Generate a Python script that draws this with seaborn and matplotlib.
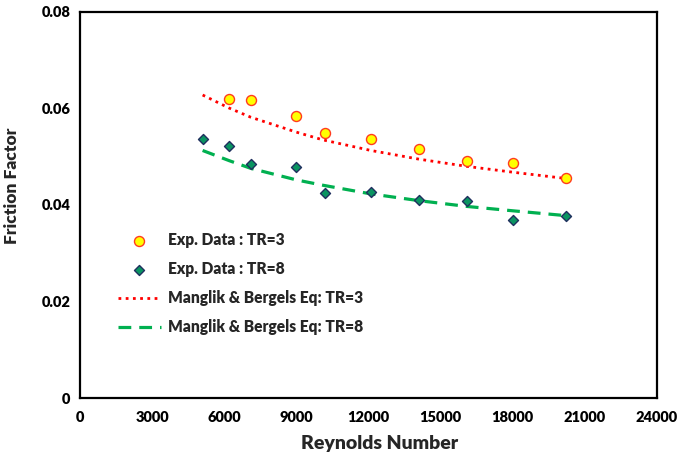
import matplotlib
matplotlib.use("Agg")
import matplotlib.pyplot as plt
import seaborn as sns
import pandas as pd

# Experimental friction factor data
re_tr3 = [6200, 7100, 9000, 10200, 12100, 14100, 16100, 18000, 20200]
f_tr3 = [0.0620, 0.0618, 0.0585, 0.0549, 0.0536, 0.0517, 0.0491, 0.0488, 0.0455]

re_tr8 = [5100, 6200, 7100, 9000, 10200, 12100, 14100, 16100, 18000, 20200]
f_tr8 = [0.0536, 0.0523, 0.0485, 0.0478, 0.0425, 0.0427, 0.0411, 0.0409, 0.0368, 0.0377]

# Manglik & Bergles correlation values
re_eq = [5100, 6200, 7100, 9000, 10100, 12100, 14100, 16100, 18000, 20200]
f_eq_tr3 = [0.0628, 0.0601, 0.0582, 0.0551, 0.0535, 0.0513, 0.0495, 0.0480, 0.0468, 0.0455]
f_eq_tr8 = [0.0513, 0.0492, 0.0476, 0.0452, 0.0441, 0.0423, 0.0409, 0.0397, 0.0388, 0.0378]

x_ticks = [0, 3000, 6000, 9000, 12000, 15000, 18000, 21000, 24000]
y_ticks = [0, 0.02, 0.04, 0.06, 0.08]
y_tick_labels = ["0", "0.02", "0.04", "0.06", "0.08"]

sns.set_style("white")
plt.rcParams["font.family"] = ["Lato", "DejaVu Sans"]
plt.rcParams["font.weight"] = "heavy"

W = "heavy"

fig = plt.figure(figsize=(6.84, 4.57), dpi=100)
ax = fig.add_axes([80 / 684, 1 - 398 / 457, 577 / 684, 386 / 457])

d3 = pd.DataFrame({"Re": re_tr3, "f": f_tr3})
d8 = pd.DataFrame({"Re": re_tr8, "f": f_tr8})
deq = pd.DataFrame({"Re": re_eq, "f3": f_eq_tr3, "f8": f_eq_tr8})

sns.scatterplot(data=d3, x="Re", y="f", ax=ax, marker="o", s=52,
                color="#FFFF00", edgecolor="#FF3B1F", linewidth=1.0,
                label="Exp. Data : TR=3", zorder=5)
sns.scatterplot(data=d8, x="Re", y="f", ax=ax, marker="D", s=26,
                color="#0A9461", edgecolor="#1F2F5E", linewidth=1.0,
                label="Exp. Data : TR=8", zorder=5)
sns.lineplot(data=deq, x="Re", y="f3", ax=ax, color="#FF0000",
             linewidth=2.0, linestyle=(0, (1, 1.6)),
             label="Manglik & Bergels Eq: TR=3", zorder=3)
sns.lineplot(data=deq, x="Re", y="f8", ax=ax, color="#00B050",
             linewidth=2.3, linestyle=(0, (4, 2.5)),
             label="Manglik & Bergels Eq: TR=8", zorder=3)

ax.set_xlim(0, 24000)
ax.set_ylim(0, 0.08)
ax.set_xticks(x_ticks)
ax.set_xticklabels([str(v) for v in x_ticks])
ax.set_yticks(y_ticks)
ax.set_yticklabels(y_tick_labels)

for side in ["left", "right", "top", "bottom"]:
    ax.spines[side].set_visible(True)
    ax.spines[side].set_color("black")
    ax.spines[side].set_linewidth(1.6)

ax.tick_params(axis="both", direction="out", length=5, width=1.5,
               colors="black", labelsize=10.5, pad=2)
ax.tick_params(axis="x", pad=4)
for lbl in ax.get_xticklabels() + ax.get_yticklabels():
    lbl.set_fontweight(W)

ax.set_xlabel("Reynolds Number", fontsize=14, fontweight=W)
ax.set_ylabel("Friction Factor", fontsize=12.5, fontweight=W)
ax.xaxis.set_label_coords(0.52, -0.097)
ax.yaxis.set_label_coords(-0.104, 0.55)

leg = ax.legend(loc="upper left", bbox_to_anchor=(0.066, 0.43),
                frameon=False, fontsize=11.2, handlelength=2.75,
                handletextpad=0.45, labelspacing=0.84, borderpad=0,
                borderaxespad=0)
for t in leg.get_texts():
    t.set_fontweight(W)

fig.savefig("out.png", dpi=100, facecolor="white")
